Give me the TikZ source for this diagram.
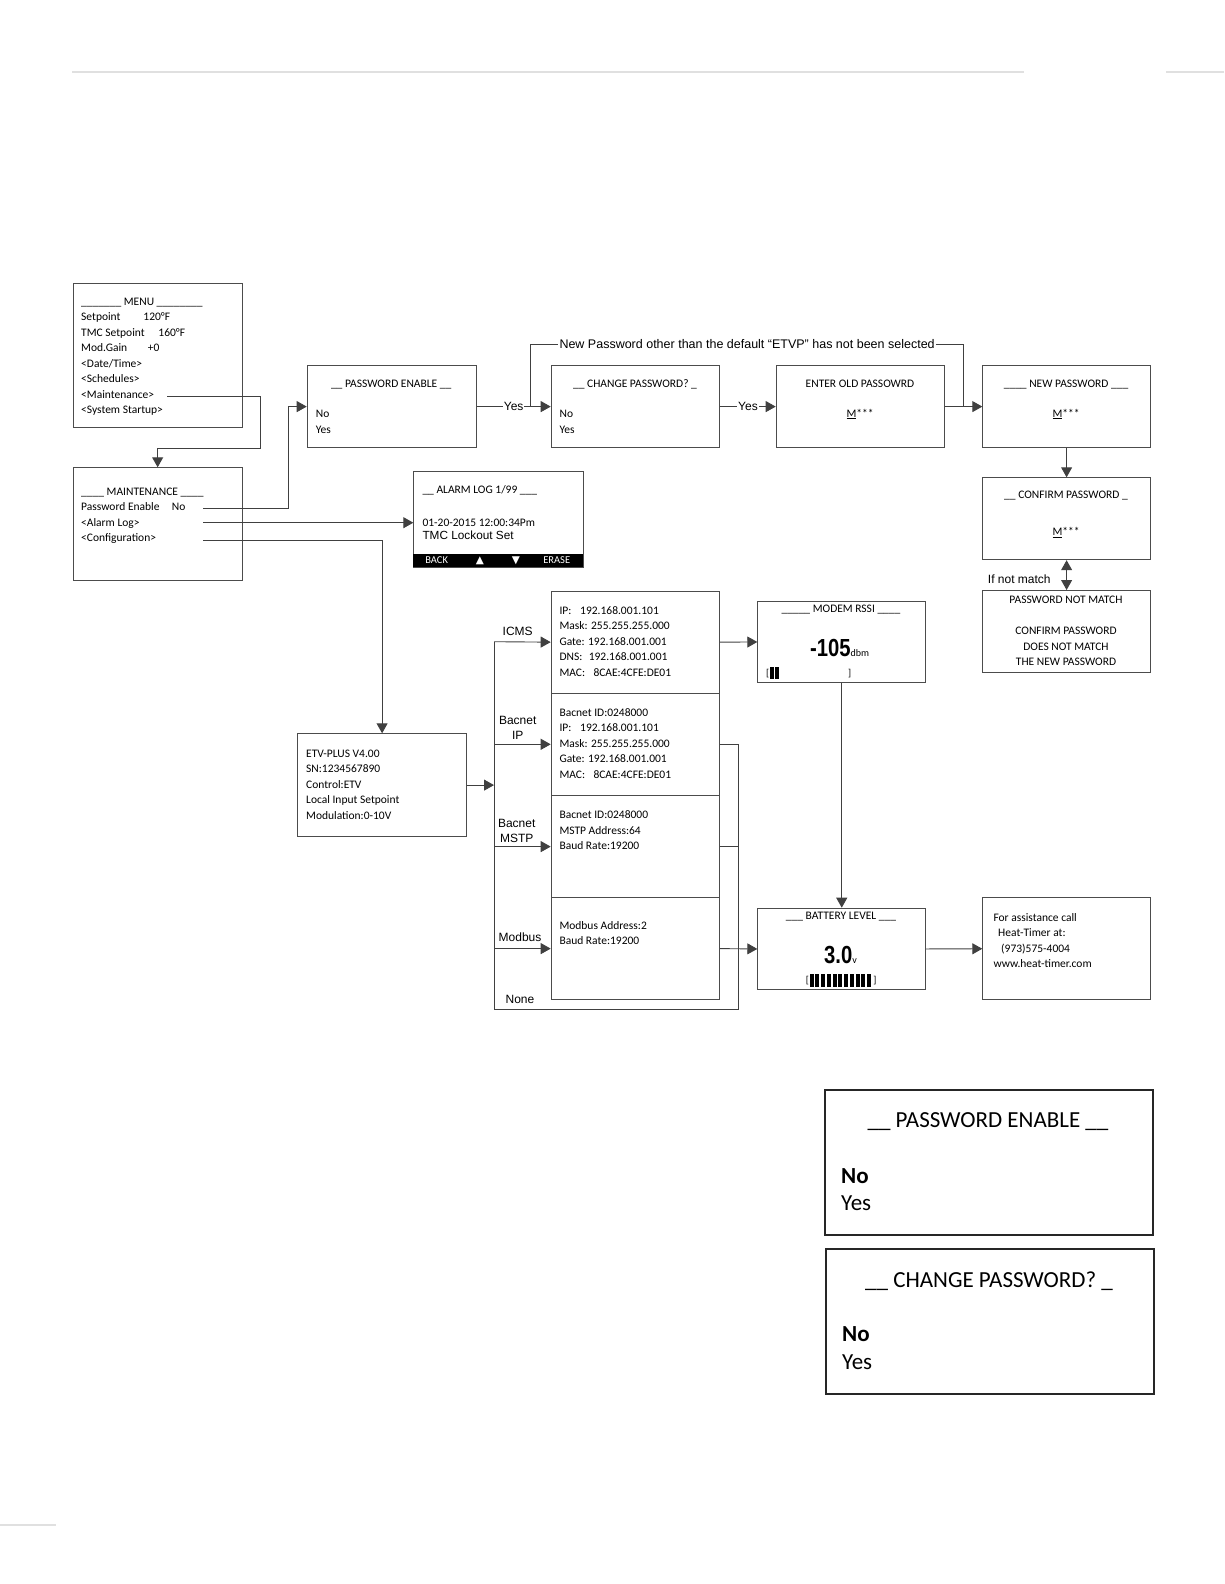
\documentclass[tikz,border=0pt]{standalone}
\usepackage{fontspec}
\setmainfont{Carlito}
\newfontfamily\arialf{Liberation Sans}
\newfontfamily\symf{DejaVu Sans}
\usetikzlibrary{arrows.meta}

\newcommand{\bignum}[1]{\scalebox{0.82}[1]{\arialf\bfseries\fontsize{24.7}{26}\selectfont #1}}
\newcommand{\llines}[1]{\begin{tabular}[t]{@{}l@{}}#1\end{tabular}}
\newcommand{\clines}[1]{\begin{tabular}[t]{@{}c@{}}#1\end{tabular}}

\begin{document}
\begin{tikzpicture}[x=1pt,y=-1pt,
  scr/.style={draw=black!70, line width=0.9pt, anchor=north west, inner sep=0pt},
  bigscr/.style={draw=black!85, line width=1.6pt, anchor=north west, inner sep=0pt},
  txt/.style={anchor=base west, inner sep=0pt, font=\fontsize{11.5}{15.5}\selectfont},
  ctxt/.style={anchor=base, inner sep=0pt, font=\fontsize{11.5}{15.5}\selectfont},
  bigtxt/.style={anchor=base west, inner sep=0pt, font=\fontsize{23}{27.6}\selectfont},
  lbl/.style={inner sep=1pt, align=center, font=\arialf\fontsize{12}{15}\selectfont},
  wire/.style={draw=black!75, line width=0.9pt},
  arr/.style={wire, -{Triangle[length=10pt,width=11pt]}},
  arrr/.style={wire, {Triangle[length=10pt,width=11pt]}-{Triangle[length=10pt,width=11pt]}}]

  \useasboundingbox (0,0) rectangle (1224,1584);

% Page rules
  \draw[black!12, line width=1.2pt] (72,72) -- (1024,72);
  \draw[black!12, line width=1.2pt] (1166,72) -- (1224,72);
  \draw[black!12, line width=1.2pt] (0,1525) -- (56,1525);

% Menu and maintenance
  \node[scr, minimum width=169pt, minimum height=144pt] (menu) at (72.7,283) {};
  \node[txt] (menuT) at (81,305.4) {\llines{\_\_\_\_\_\_\_ MENU \_\_\_\_\_\_\_\_\\
    \makebox[62.3pt][l]{Setpoint}120°F\\
    \makebox[77.3pt][l]{TMC Setpoint}160°F\\
    \makebox[66.7pt][l]{Mod.Gain}+0\\
    <Date/Time>\\ <Schedules>\\ <Maintenance>\\ <System Startup>}};
  \node[scr, minimum width=169pt, minimum height=112.7pt] (maint) at (72.7,467.3) {};
  \node[txt] (maintT) at (81,495.4) {\llines{\_\_\_\_ MAINTENANCE \_\_\_\_\\
    \makebox[90.7pt][l]{Password Enable}No\\
    <Alarm Log>\\ <Configuration>}};

% Password screens
  \node[scr, minimum width=169pt, minimum height=82.3pt] (pwen) at (306.7,365) {};
  \node[ctxt] (pwenT) at (391.2,387) {\_\_ PASSWORD ENABLE \_\_};
  \node[txt] (pwenS) at (315.7,417.7) {\llines{No\\Yes}};
  \node[scr, minimum width=168.6pt, minimum height=82.3pt] (chg) at (550.7,365) {};
  \node[ctxt] (chgT) at (635,387) {\_\_ CHANGE PASSWORD? \_};
  \node[txt] (chgS) at (559.5,417.7) {\llines{No\\Yes}};
  \node[scr, minimum width=168.6pt, minimum height=82.3pt] (oldpw) at (775.7,365) {};
  \node[ctxt] (oldpwT) at (860,387) {ENTER OLD PASSOWRD};
  \node[ctxt] (oldpwS) at (860,417) {\underline{M}***};
  \node[scr, minimum width=167.7pt, minimum height=82.3pt] (newpw) at (982.3,365) {};
  \node[ctxt] (newpwT) at (1066,387) {\_\_\_\_ NEW PASSWORD \_\_\_};
  \node[ctxt] (newpwS) at (1066,417) {\underline{M}***};
  \node[scr, minimum width=167.7pt, minimum height=82pt] (conf) at (982.3,477.3) {};
  \node[ctxt] (confT) at (1066,498.7) {\_\_ CONFIRM PASSWORD \_};
  \node[ctxt] (confS) at (1066,535.4) {\underline{M}***};
  \node[scr, minimum width=167.7pt, minimum height=82.3pt] (nomatch) at (982.3,590) {};
  \node[ctxt] (nomatchT) at (1066,603.7) {\clines{PASSWORD NOT MATCH\\[15.5pt]
    CONFIRM PASSWORD\\ DOES NOT MATCH\\ THE NEW PASSWORD}};

% Alarm log
  \node[scr, minimum width=169.4pt, minimum height=95.7pt] (alarm) at (413.3,471) {};
  \node[txt] (alarmT) at (422.3,493) {\_\_ ALARM LOG 1/99 \_\_\_};
  \node[txt] (alarmS) at (422.3,526.4) {01-20-2015 12:00:34Pm};
  \node[lbl, anchor=base west, inner sep=0pt, font=\arialf\fontsize{11.8}{14}\selectfont] (alarmM) at (422.3,539) {TMC Lockout Set};
  \fill[black] (413.3,554) rectangle (582.7,566.7);
  \foreach \x/\t [count=\i] in {436.7/BACK, 480/{\symf ▲}, 516/{\symf ▼}, 556.7/ERASE}
    \node[white, inner sep=0pt, font=\fontsize{10.5}{12}\selectfont] (key\i) at (\x,560.5) {\t};

% Configuration
  \node[scr, minimum width=168.7pt, minimum height=102.7pt] (etv) at (297.3,733.3) {};
  \node[txt] (etvT) at (306,757) {\llines{ETV-PLUS V4.00\\ SN:1234567890\\ Control:ETV\\
    Local Input Setpoint\\ Modulation:0-10V}};
  \node[scr, minimum width=168.6pt, minimum height=102pt] (icms) at (550.7,590.7) {};
  \node[txt] (icmsT) at (559.3,614.4) {\llines{\makebox[20.7pt][l]{IP:}192.168.001.101\\
    Mask: 255.255.255.000\\ Gate: 192.168.001.001\\
    \makebox[29.3pt][l]{DNS:}192.168.001.001\\ \makebox[34pt][l]{MAC:}8CAE:4CFE:DE01}};
  \node[scr, minimum width=168.6pt, minimum height=102.3pt] (bip) at (550.7,692.7) {};
  \node[txt] (bipT) at (559.3,716.4) {\llines{Bacnet ID:0248000\\ \makebox[20.7pt][l]{IP:}192.168.001.101\\
    Mask: 255.255.255.000\\ Gate: 192.168.001.001\\ \makebox[34pt][l]{MAC:}8CAE:4CFE:DE01}};
  \node[scr, minimum width=168.6pt, minimum height=102.3pt] (mstp) at (550.7,795) {};
  \node[txt] (mstpT) at (559.3,818.7) {\llines{Bacnet ID:0248000\\ MSTP Address:64\\ Baud Rate:19200}};
  \node[scr, minimum width=168.6pt, minimum height=101.7pt] (modbus) at (550.7,897.3) {};
  \node[txt] (modbusT) at (559.3,929.4) {\llines{Modbus Address:2\\ Baud Rate:19200}};

% Modem, battery, help
  \node[scr, minimum width=168pt, minimum height=81.6pt] (modem) at (757.3,600.7) {};
  \node[ctxt] (modemT) at (841,612.8) {\_\_\_\_\_ MODEM RSSI \_\_\_\_};
  \node[anchor=base west, inner sep=0pt] (modemV) at (810,656) {\bignum{-105}{\fontsize{10}{12}\selectfont dbm}};
  \node[inner sep=0pt] (modemL) at (767.6,673.5) {[};
  \node[inner sep=0pt] (modemR) at (849.6,673.5) {]};
  \foreach \k in {0,1}
    \fill (769.5+5.4*\k,667.3) rectangle ++(4.2,12);
  \node[scr, minimum width=168pt, minimum height=81.6pt] (batt) at (757.3,907.7) {};
  \node[ctxt] (battT) at (841,919.4) {\_\_\_ BATTERY LEVEL \_\_\_};
  \node[anchor=base west, inner sep=0pt] (battV) at (824,963.3) {\bignum{3.0}{\fontsize{10}{12}\selectfont v}};
  \node[inner sep=0pt] (battL) at (807.4,980.5) {[};
  \node[inner sep=0pt] (battR) at (875,980.5) {]};
  \foreach \k in {0,...,10}
    \fill (809.5+5.76*\k,974.3) rectangle ++(4,12.4);
  \node[scr, minimum width=167.7pt, minimum height=102pt] (help) at (982.3,897.3) {};
  \node[txt] (helpT) at (993.3,921) {\llines{For assistance call\\ \hspace*{4.7pt}Heat-Timer at:\\
    \hspace*{7.7pt}(973)575-4004\\ www.heat-timer.com}};

% Connectors
  \coordinate (mmaint) at (167.3,396.3);
  \coordinate (mpw) at (203.3,508.3);
  \coordinate (malarm) at (203.3,522.7);
  \coordinate (mconf) at (203.3,540);
  \draw[arr] (mmaint) -| (260,448.3) -| (maint.north);
  \draw[arr] (mpw) -| ([xshift=-18.4pt]pwen.west) -- (pwen.west);
  \draw[arr] (malarm) -- (alarm.west |- malarm);
  \draw[arr] (mconf) -| (etv.north);

  \draw[arr] (pwen.east) -- node[lbl, fill=white] (yes1) {Yes} (chg.west);
  \draw[arr] (chg.east) -- node[lbl, fill=white] (yes2) {Yes} (oldpw.west);
  \draw[arr] (oldpw.east) -- (newpw.west);
  \coordinate (fork) at (530.7,406.15);
  \coordinate (join) at (963.3,406.15);
  \node[lbl, anchor=west, font=\arialf\fontsize{12.5}{15}\selectfont] (npnote) at (558.3,344) {New Password other than the default “ETVP” has not been selected};
  \draw[wire] (fork) |- (npnote.west);
  \draw[wire] (npnote.east) -| (join);
  \draw[arr] (newpw.south) -- (conf.north);
  \draw[arrr] (conf.south) -- (nomatch.north);
  \node[lbl] (ifnot) at (1019.3,579.3) {If not match};

% Protocol bus
  \coordinate (bustop) at (494,641.7);
  \coordinate (busbot) at (494,1009.3);
  \coordinate (rbus) at (738,1009.3);
  \draw[arr] (etv.east) -- (etv.east -| bustop);
  \draw[wire] (bustop) -- (busbot) -- (rbus) |- (bip.east);
  \draw[wire] (mstp.east) -- (mstp.east -| rbus);
  \draw[arr] (bustop) -- (icms.west);
  \draw[arr] (bip.west -| bustop) -- (bip.west);
  \draw[arr] (mstp.west -| bustop) -- (mstp.west);
  \draw[arr] (modbus.west -| bustop) -- (modbus.west);
  \node[lbl] (lICMS) at (517.7,631.7) {ICMS};
  \node[lbl] (lBIP) at (517.7,727.5) {Bacnet\\IP};
  \node[lbl] (lMSTP) at (516.7,830.5) {Bacnet\\MSTP};
  \node[lbl] (lMOD) at (520,937.3) {Modbus};
  \node[lbl] (lNONE) at (520,999) {None};

  \draw[arr] (icms.east) -- (modem.west);
  \draw[arr] (modem.south) -- (batt.north);
  \draw[arr] (modbus.east) -- (batt.west);
  \draw[arr] (batt.east) -- (help.west);

% Enlarged screens
  \node[bigscr, minimum width=328pt, minimum height=145pt] (big1) at (824,1089) {};
  \node[bigtxt, anchor=base] (big1T) at (988,1127.5) {\_\_ PASSWORD ENABLE \_\_};
  \node[bigtxt] (big1S) at (841,1183) {\llines{\textbf{No}\\Yes}};
  \node[bigscr, minimum width=328pt, minimum height=145pt] (big2) at (825,1248) {};
  \node[bigtxt, anchor=base] (big2T) at (989,1287.5) {\_\_ CHANGE PASSWORD? \_};
  \node[bigtxt] (big2S) at (842,1341.5) {\llines{\textbf{No}\\Yes}};

\end{tikzpicture}
\end{document}
